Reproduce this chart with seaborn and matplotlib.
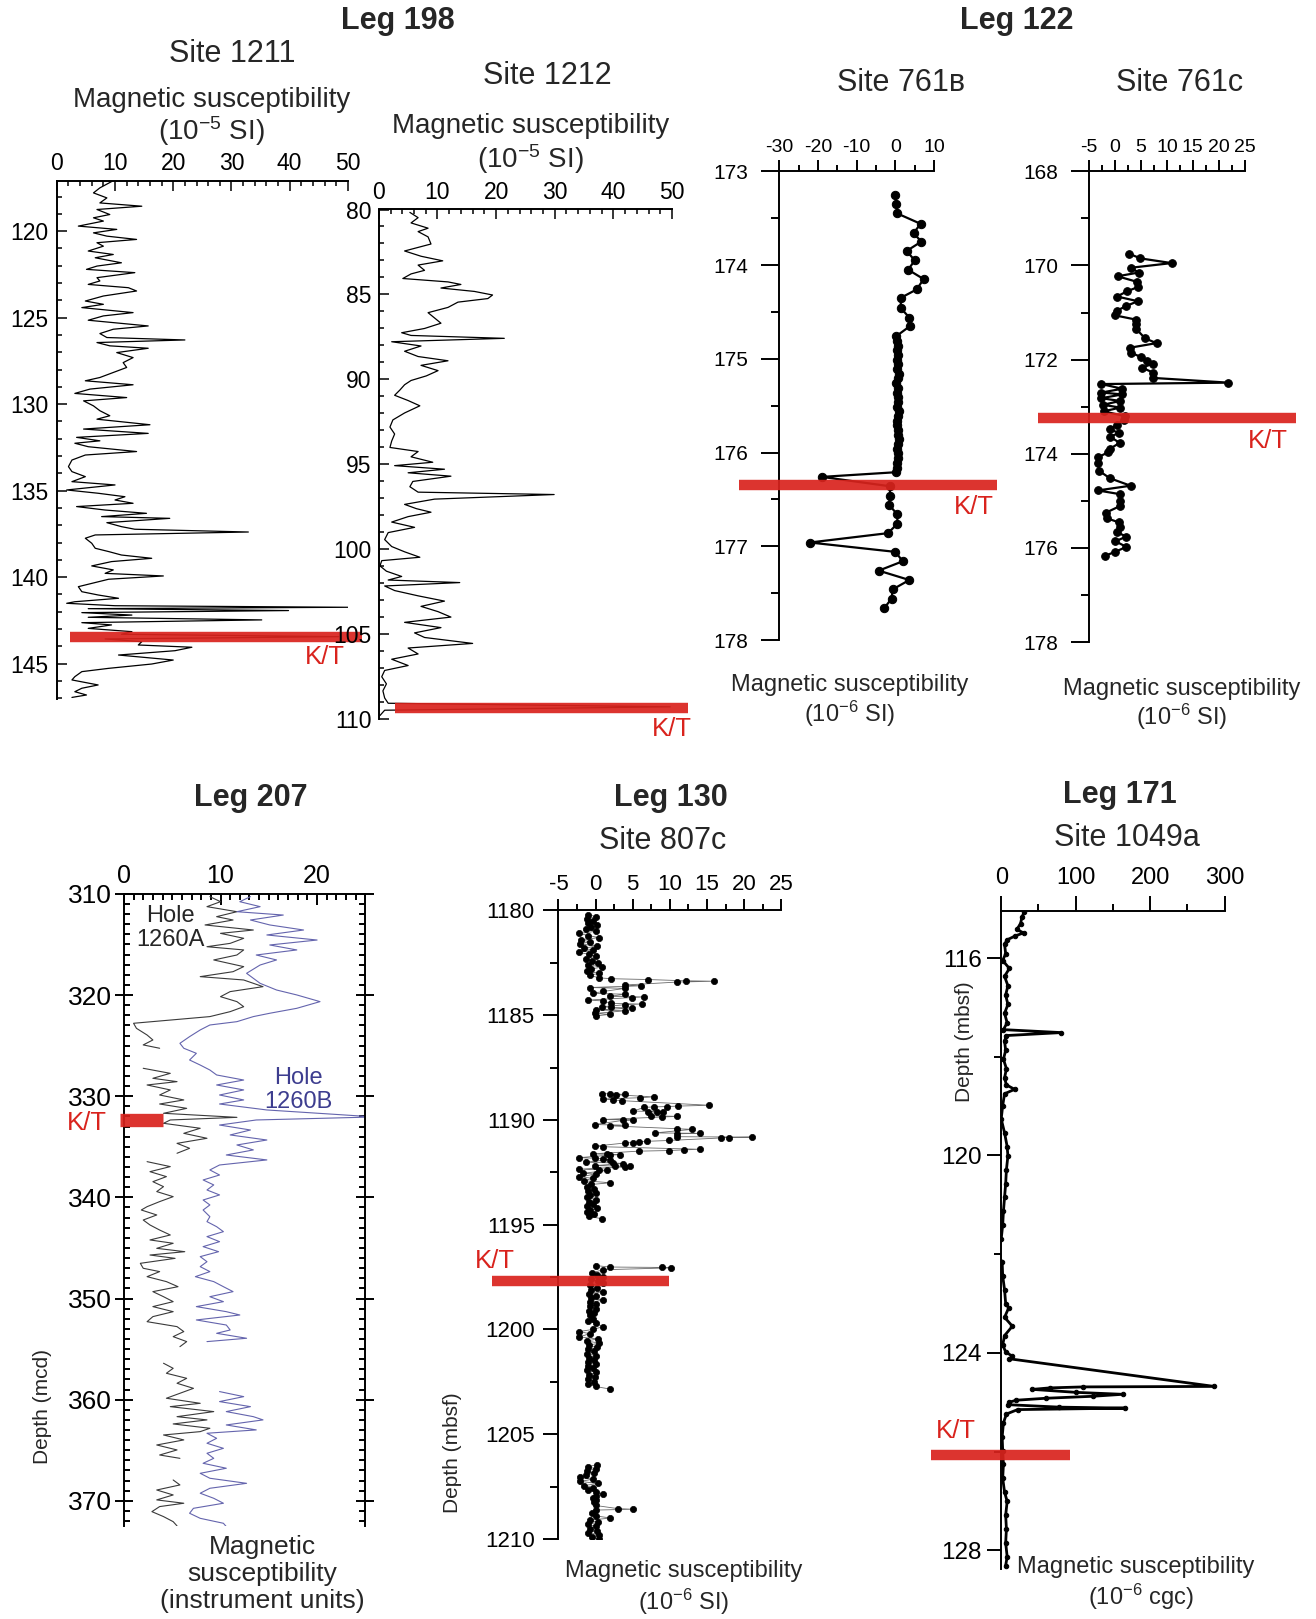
import numpy as np
import pandas as pd
import matplotlib
matplotlib.use("Agg")
import matplotlib.pyplot as plt
from matplotlib.ticker import MultipleLocator
import seaborn as sns

W, H = 1316, 1619
RED = "#d9231d"

# ---- Leg 198, Site 1211 (depth mbsf, susceptibility 1e-5 SI)
s1211_depth = [117.12, 117.5, 117.79, 118.08, 118.37, 118.56, 118.75, 119.04, 119.23, 119.42,
               119.71, 119.9, 120.1, 120.29, 120.48, 120.67, 120.87, 121.15, 121.35, 121.54,
               121.83, 122.02, 122.21, 122.4, 122.69, 122.88, 123.08, 123.27, 123.46, 123.75,
               124.04, 124.23, 124.42, 124.71, 124.9, 125.15, 125.48, 125.67, 125.92, 126.15,
               126.29, 126.44, 126.63, 126.77, 127.02, 127.31, 127.6, 127.88, 128.17, 128.46,
               128.65, 128.88, 129.13, 129.38, 129.62, 129.81, 130.1, 130.38, 130.67, 130.87,
               131.19, 131.44, 131.69, 131.92, 132.12,
               132.26, 132.46, 132.74, 132.94, 133.23, 133.61, 133.9, 134.19, 134.48, 134.67,
               134.96, 135.15, 135.35, 135.54, 135.73, 135.92, 136.12, 136.31, 136.5, 136.6,
               136.85, 137.08, 137.23, 137.39, 137.56, 137.75, 138.04, 138.33, 138.52, 138.72,
               138.91, 139.1, 139.35, 139.58, 139.78, 139.93, 140.12, 140.36, 140.55, 140.84,
               141.03, 141.22, 141.42, 141.51, 141.65, 141.74, 141.82, 141.93, 142.05, 142.19,
               142.32, 142.47, 142.63, 142.76, 142.96, 143.15, 143.3, 143.44, 143.57, 143.73,
               143.92, 144.05, 144.25, 144.5, 144.79, 145.02, 145.27, 145.46, 145.75, 145.94,
               146.23, 146.42, 146.62, 146.81, 146.95]
s1211_ms = [9.5, 7.4, 6.3, 8.6, 7.4, 14.6, 6.9, 9.1, 6.3, 8.0,
            3.7, 10.3, 6.3, 8.6, 13.7, 6.9, 8.0, 5.4, 9.7, 6.6,
            11.1, 6.9, 5.1, 13.4, 6.9, 7.4, 5.4, 12.3, 13.7, 8.0,
            4.9, 8.0, 4.3, 13.1, 8.0, 5.4, 15.7, 9.7, 7.4, 8.6,
            22.0, 6.9, 9.1, 15.7, 10.3, 13.1, 11.4, 12.0, 9.7, 7.4,
            4.9, 13.1, 5.7, 3.1, 12.0, 4.6, 6.3, 7.4, 9.1, 6.9,
            16.0, 4.6, 15.7, 3.4, 7.4,
            3.1, 5.4, 13.7, 4.9, 2.6, 2.0, 2.6, 4.9, 2.6, 10.0,
            1.7, 7.1, 11.7, 10.0, 13.1, 3.4, 8.3, 15.4, 7.7, 19.4,
            8.6, 11.1, 13.4, 32.9, 6.6, 4.9, 6.0, 6.6, 8.9, 11.1,
            16.3, 9.4, 6.0, 9.7, 8.3, 18.3, 8.9, 6.0, 3.7, 4.3,
            7.1, 10.6, 3.1, 1.7, 10.0, 50.0, 5.4, 39.8, 4.3, 12.9,
            5.4, 35.2, 4.3, 9.4, 5.4, 12.9, 11.1, 48.4, 8.3, 14.6,
            14.0, 23.2, 20.3, 10.6, 20.0, 16.3, 8.9, 4.3, 3.1, 2.6,
            7.1, 4.3, 3.1, 5.1, 2.6]
s1211_kt = 143.45

# ---- Leg 198, Site 1212
s1212_depth = [80.17, 80.48, 80.79, 81.1, 81.3, 81.61, 82.03, 82.44, 82.75, 83.02,
               83.27, 83.58, 83.79, 84.06, 84.26, 84.41, 84.62, 84.82, 85.03, 85.24,
               85.45, 85.76, 86.07, 86.38, 86.69, 87.0, 87.25, 87.41, 87.58, 87.78,
               88.03, 88.34, 88.65, 88.9, 89.17, 89.48, 89.79, 90.06, 90.31, 90.62,
               90.93, 91.24, 91.55, 91.97, 92.38, 92.8, 93.21, 93.62, 94.0, 94.24,
               94.55, 94.87, 95.07, 95.28, 95.49, 95.69, 96.0, 96.31, 96.63, 96.77,
               97.04, 97.35, 97.6, 97.81, 98.07, 98.39, 98.7, 99.01, 99.42, 99.83,
               100.14, 100.46, 100.66, 100.97, 101.28, 101.59, 101.8, 101.95, 102.15, 102.42,
               102.73, 103.04, 103.35, 103.66, 103.98, 104.29, 104.6, 104.91, 105.18, 105.53,
               105.8, 106.15, 106.46, 106.83, 107.12, 107.49, 107.91, 108.32, 108.74, 109.05,
               109.26, 109.46, 109.77]
s1212_ms = [5.3, 6.7, 5.5, 8.4, 6.7, 8.4, 8.9, 4.4, 7.2, 10.9,
            6.7, 7.8, 5.5, 4.1, 11.8, 14.0, 10.6, 16.3, 19.4, 18.6,
            13.5, 11.8, 8.4, 9.5, 10.6, 7.8, 3.9, 5.5, 21.4, 2.2,
            7.2, 4.4, 6.7, 11.8, 7.2, 10.1, 8.1, 5.5, 4.4, 3.6,
            2.7, 5.0, 7.0, 4.4, 2.4, 1.9, 2.7, 2.2, 1.9, 6.7,
            5.5, 9.2, 2.7, 11.2, 5.0, 12.3, 5.8, 5.3, 6.7, 29.9,
            9.5, 4.4, 6.4, 8.9, 5.0, 2.2, 6.1, 1.6, 1.0, 2.2,
            4.4, 7.0, 0.5, 0.2, 1.3, 3.9, 1.6, 13.8, 1.0, 2.7,
            6.7, 11.2, 7.2, 10.1, 12.3, 4.4, 10.6, 6.1, 7.8, 16.0,
            5.0, 6.7, 2.2, 5.0, 1.0, 0.5, 1.3, 0.7, 1.0, 1.6,
            49.7, 1.0, 0.2]
s1212_kt = 109.3

# ---- Leg 122, Site 761B (1e-6 SI)
s761b_depth = [173.25, 173.35, 173.45, 173.56, 173.66, 173.75, 173.85, 173.95, 174.05, 174.15,
               174.26, 174.35, 174.46, 174.56, 174.65, 174.76,
               174.81, 174.86, 174.91, 174.96, 175.01, 175.06, 175.11, 175.16, 175.21, 175.26,
               175.31, 175.36, 175.41, 175.46, 175.51, 175.56, 175.61, 175.66, 175.71, 175.76,
               175.81, 175.86, 175.91, 175.96, 176.01, 176.06, 176.11, 176.16, 176.21,
               176.26, 176.36, 176.46, 176.56, 176.66, 176.76, 176.86, 176.96, 177.06, 177.16,
               177.26, 177.36, 177.46, 177.56, 177.66]
s761b_ms = [0.0, 0.2, 0.5, 6.5, 4.7, 6.7, 2.9, 5.0, 3.3, 7.3,
            5.5, 1.4, 1.4, 3.6, 3.8, 0.2,
            0.3, 0.6, 0.4, 0.8, 0.5, 0.7, 0.4, 0.9, 0.6, 0.2,
            0.7, 0.5, 0.8, 0.6, 0.4, 0.9, 0.7, 0.5, 0.3, 0.8,
            0.6, 1.0, 0.7, 0.4, 0.8, 0.6, 0.3, 0.5, 0.2,
            -19.0, -1.4, -1.4, -1.6, 0.5, 0.5, -1.9, -22.1, 0.0, 1.9,
            -4.3, 3.6, -0.7, -1.0, -2.9]
s761b_kt = 176.35

# ---- Leg 122, Site 761C (1e-6 SI)
s761c_depth = [169.75, 169.85, 169.95, 170.05, 170.15, 170.23, 170.35, 170.46, 170.55, 170.66,
               170.76, 170.86, 170.96, 171.06, 171.15, 171.25, 171.35, 171.55, 171.65, 171.75,
               171.85, 171.95, 172.04, 172.09, 172.17, 172.28, 172.39, 172.49, 172.52, 172.62,
               172.70, 172.74, 172.82, 172.88, 172.96, 173.02, 173.10, 173.20, 173.28, 173.38,
               173.48, 173.56, 173.64, 173.77, 173.89, 173.97, 174.07, 174.20, 174.36, 174.52,
               174.68, 174.78, 174.86, 175.00, 175.11, 175.25, 175.37, 175.46, 175.56, 175.67,
               175.76, 175.86, 175.98, 176.08, 176.17]
s761c_ms = [2.7, 4.9, 10.9, 3.0, 4.6, 0.5, 4.3, 4.4, 2.3, 0.4,
            4.4, 2.2, 0.4, 0.0, 4.0, 4.0, 4.1, 5.8, 8.0, 2.8,
            3.0, 5.1, 6.1, 7.3, 5.2, 7.4, 7.4, 21.8, -2.6, 1.4,
            -2.6, 1.4, -2.6, 1.0, -2.3, 1.0, -2.2, 1.9, 1.7, 0.4,
            -0.9, 0.7, -0.9, 0.9, -0.9, -1.3, -3.2, -3.2, -3.1, -1.0,
            3.0, -3.3, 1.0, 1.0, 1.0, -1.7, -1.6, 0.8, 1.0, 0.4,
            2.2, 0.1, 2.2, 0.1, -1.9]
s761c_kt = 173.24

# ---- Leg 207, Holes 1260A / 1260B (instrument units), one list per core section
h1260a_depth = [
    [310.27, 310.77, 311.26, 311.76, 312.25, 312.58, 313.07, 313.57, 313.9, 314.39,
     314.89, 315.22, 315.54, 316.04, 316.53, 317.19, 317.69, 318.18, 318.51, 319.17,
     319.66, 320.16, 320.65, 321.15, 321.64, 322.13, 322.79, 323.29, 323.95, 324.44,
     324.93, 325.26],
    [327.24, 327.74, 328.23, 328.56, 328.89, 329.38, 329.88, 330.37, 330.77, 331.2,
     331.69, 332.09, 332.35, 332.68, 333.17, 333.67, 334.16, 334.66, 335.15, 335.64],
    [336.47, 336.96, 337.46, 337.95, 338.45, 338.94, 339.43, 339.93, 340.42, 340.92,
     341.25, 341.74, 342.24, 342.73, 343.23, 343.72, 344.21, 344.54, 345.04, 345.37,
     345.7, 346.03, 346.52, 347.01, 347.34, 347.84, 348.33, 348.83, 349.32, 349.82,
     350.31, 350.8, 351.3, 351.79, 352.29, 352.78, 353.27, 353.77, 354.26, 354.76],
    [356.4, 356.9, 357.39, 357.89, 358.38, 358.88, 359.37, 359.86, 360.36, 360.69,
     361.18, 361.68, 362.0, 362.4, 362.83, 363.16, 363.49, 363.98, 364.48, 364.97,
     365.47, 365.8],
    [367.94, 368.43, 368.93, 369.42, 369.91, 370.24, 370.57, 371.07, 371.56, 372.06, 372.48],
]
h1260a_ms = [
    [8.9, 10.0, 8.6, 11.7, 9.6, 11.3, 8.4, 13.4, 10.0, 12.4,
     11.0, 8.6, 12.4, 11.7, 9.3, 12.4, 11.3, 7.9, 12.4, 14.4,
     11.0, 10.0, 11.7, 12.4, 11.0, 8.9, 1.0, 1.3, 2.4, 3.0,
     2.0, 3.7],
    [2.0, 4.8, 3.0, 5.5, 2.4, 4.8, 3.7, 6.2, 3.7, 6.5,
     4.1, 11.7, 4.8, 4.1, 7.9, 6.2, 8.6, 5.5, 6.8, 5.5],
    [2.4, 4.8, 2.7, 4.4, 3.0, 4.1, 3.4, 5.1, 3.7, 2.4,
     1.8, 3.4, 2.0, 2.7, 3.7, 4.8, 2.7, 5.1, 3.4, 6.3,
     2.7, 5.3, 1.7, 2.0, 3.7, 2.4, 4.4, 5.6, 3.0, 4.1,
     5.1, 3.0, 5.1, 3.0, 2.4, 5.5, 6.2, 5.1, 6.5, 5.8],
    [4.1, 5.1, 4.4, 6.5, 5.5, 7.2, 5.8, 4.4, 7.9, 4.8,
     9.3, 5.5, 8.6, 5.1, 8.9, 7.9, 4.1, 6.2, 3.4, 5.5,
     3.7, 5.8],
    [5.1, 5.8, 3.4, 5.1, 3.4, 6.2, 3.7, 2.9, 4.1, 5.1, 5.5],
]
h1260b_depth = [
    [310.27, 310.77, 311.26, 311.76, 312.09, 312.58, 313.07, 313.57, 314.06, 314.56,
     315.05, 315.54, 316.04, 316.53, 317.03, 317.85, 318.84, 319.5, 319.99, 320.65,
     321.31, 321.8, 322.13, 322.63, 322.96, 323.45, 324.11, 324.77, 325.26, 325.76,
     326.42, 326.92, 327.41, 327.9, 328.4, 328.89, 329.38, 329.88, 330.37, 330.77,
     331.36, 332.05, 332.35, 332.85, 333.34, 333.83, 334.33, 334.82, 335.31, 335.81,
     336.3, 336.8, 337.29, 337.79, 338.28, 338.77, 339.27, 339.76, 340.26, 340.75,
     341.25, 341.91, 342.4, 342.9, 343.39, 343.88, 344.38, 344.87, 345.37, 345.86,
     346.36, 346.85, 347.34, 347.84, 348.33, 348.83, 349.32, 349.82, 350.31, 350.8,
     351.3, 351.63, 352.12, 352.62, 353.11, 353.44, 353.93, 354.26],
    [359.2, 359.7, 360.19, 360.69, 361.18, 361.68, 362.0, 362.5, 362.99, 363.32,
     363.82, 364.31, 364.81, 365.3, 365.8, 366.29, 366.78, 367.28, 367.77, 368.27,
     368.76, 369.25, 369.75, 370.24, 370.74, 371.23, 371.73, 372.22, 372.55],
]
h1260b_ms = [
    [13.1, 12.0, 14.1, 11.7, 16.5, 13.1, 15.1, 18.6, 14.8, 20.0,
     15.1, 17.9, 13.7, 15.8, 14.1, 12.7, 14.1, 15.8, 17.9, 20.3,
     17.9, 15.1, 13.4, 11.7, 8.9, 7.9, 6.8, 5.8, 6.2, 7.5,
     6.8, 7.9, 8.9, 9.6, 12.4, 9.6, 12.4, 9.9, 12.4, 9.9,
     14.8, 26.0, 13.7, 9.9, 13.1, 11.0, 14.8, 11.7, 13.4, 10.6,
     14.8, 9.9, 8.9, 9.9, 8.2, 9.3, 8.6, 9.9, 8.2, 8.9,
     8.2, 8.9, 8.6, 9.6, 10.3, 8.6, 9.9, 8.2, 9.8, 7.9,
     8.6, 7.9, 8.9, 7.4, 9.3, 10.3, 11.3, 8.9, 10.3, 7.5,
     10.6, 12.0, 7.5, 10.6, 11.0, 9.6, 12.7, 8.6],
    [9.9, 12.4, 9.9, 13.1, 10.6, 13.4, 14.4, 10.6, 13.7, 8.6,
     9.6, 8.6, 10.3, 8.6, 9.3, 8.2, 10.6, 7.9, 8.9, 12.7,
     8.9, 7.9, 9.3, 10.3, 7.2, 6.8, 7.9, 10.3, 10.6],
]
h1260_kt = 332.35

# ---- Leg 130, Site 807C (1e-6 SI), one list per core
s807c_depth = [
    [1180.2, 1180.3, 1180.4, 1180.5, 1180.6, 1180.7, 1180.8, 1180.9, 1181.0, 1181.1,
     1181.2, 1181.3, 1181.4, 1181.5, 1181.6, 1181.7, 1181.8, 1181.9, 1182.0, 1182.1,
     1182.2, 1182.3, 1182.4, 1182.5, 1182.6, 1182.7, 1182.8, 1182.9, 1183.0, 1183.1,
     1183.22, 1183.26, 1183.30, 1183.36, 1183.38, 1183.42, 1183.56, 1183.60, 1183.68, 1183.72,
     1183.87, 1183.96, 1184.00, 1184.10, 1184.13, 1184.16, 1184.28, 1184.32, 1184.44, 1184.47,
     1184.50, 1184.60, 1184.63, 1184.66, 1184.75, 1184.79, 1184.92, 1184.96, 1185.04],
    [1188.74, 1188.76, 1188.78, 1188.80, 1188.90, 1188.94, 1189.00, 1189.05, 1189.08, 1189.30,
     1189.34, 1189.36, 1189.38, 1189.40, 1189.58, 1189.60, 1189.62, 1189.64, 1189.80, 1189.83,
     1189.86, 1189.98, 1190.00, 1190.02, 1190.22, 1190.25, 1190.28, 1190.42, 1190.45, 1190.62,
     1190.64, 1190.66, 1190.80, 1190.82, 1190.84, 1190.86, 1190.98, 1191.02, 1191.05, 1191.08,
     1191.10, 1191.25, 1191.28, 1191.40, 1191.43, 1191.46, 1191.49, 1191.62, 1191.64, 1191.66,
     1191.68, 1191.80, 1191.83, 1191.86, 1191.89, 1192.02, 1192.05, 1192.08, 1192.18, 1192.20,
     1192.22, 1192.24, 1192.35, 1192.38, 1192.41, 1192.55, 1192.58, 1192.72, 1192.78, 1192.90,
     1193.00, 1193.08, 1193.2, 1193.3, 1193.4, 1193.5, 1193.6, 1193.7, 1193.8, 1193.9,
     1194.0, 1194.1, 1194.2, 1194.3, 1194.4, 1194.5, 1194.6, 1194.72],
    [1196.95, 1197.02, 1197.04, 1197.06, 1197.15, 1197.3, 1197.4, 1197.5, 1197.6, 1197.7,
     1197.8, 1197.9, 1198.0, 1198.1, 1198.2, 1198.3, 1198.4, 1198.5, 1198.6, 1198.7,
     1198.8, 1198.9, 1199.0, 1199.1, 1199.2, 1199.3, 1199.5, 1199.6, 1199.7, 1199.87,
     1200.0, 1200.1, 1200.2, 1200.36, 1200.45, 1200.55, 1200.65, 1200.75, 1200.85, 1200.95,
     1201.05, 1201.15, 1201.25, 1201.35, 1201.45, 1201.55, 1201.65, 1201.75, 1201.85, 1201.95,
     1202.05, 1202.15, 1202.25, 1202.35, 1202.5, 1202.62, 1202.72, 1202.85],
    [1206.45, 1206.55, 1206.65, 1206.75, 1206.85, 1206.95, 1207.05, 1207.15, 1207.25, 1207.35,
     1207.45, 1207.55, 1207.65, 1207.75, 1207.85, 1207.95, 1208.05, 1208.15, 1208.25, 1208.4,
     1208.55, 1208.58, 1208.62, 1208.75, 1208.9, 1209.0, 1209.1, 1209.2, 1209.3, 1209.4,
     1209.5, 1209.6, 1209.7, 1209.8, 1209.9, 1210.0],
]
s807c_ms = [
    [-1.0, 0.1, -1.2, -0.3, -1.0, 0.2, -0.6, -1.3, 0.0, -2.2,
     -1.0, 0.5, -2.0, -0.8, -2.1, 0.2, -1.5, -0.4, -2.2, -0.9,
     0.0, -1.3, -0.5, 0.3, -1.0, 0.8, -0.6, -1.2, 0.5, -0.8,
     0.5, 2.1, 7.1, 12.1, 16.0, 11.0, 4.0, 6.1, -0.8, 4.0,
     1.0, -0.4, 4.0, 1.9, 6.5, 4.9, -1.0, 1.0, 2.1, 6.2,
     4.0, 0.8, 2.1, 4.9, 0.1, 4.0, -0.1, 1.9, 0.0],
    [0.8, 1.9, 4.0, 2.8, 7.8, 6.0, 1.0, 2.4, 3.5, 15.3,
     11.1, 9.6, 7.8, 6.5, 5.1, 9.1, 8.3, 7.1, 7.4, 11.0,
     9.0, 1.0, 5.0, 3.7, -0.1, 4.0, 1.9, 11.0, 13.0, 8.0,
     14.0, 11.0, 11.0, 21.0, 17.9, 16.9, 9.9, 6.9, 5.9, 5.0,
     4.0, -0.1, 1.0, 14.0, 11.9, 9.9, 5.8, -0.4, 1.5, 3.3,
     1.9, -2.2, -0.1, 1.0, 1.9, -1.3, 2.4, 3.7, -0.1, 2.6,
     4.6, 4.0, -2.2, 0.5, 1.5, -1.7, 0.1, -2.2, -0.4, -1.5,
     2.0, -0.6, -1.2, -0.2, -1.0, 0.1, -0.8, -1.2, 0.0, -0.9,
     -0.3, -1.1, 0.2, -0.7, -1.2, -0.2, -0.9, 0.9],
    [0.0, 1.9, 9.0, 10.1, 1.0, -0.5, 0.2, 1.0, -0.6, 0.3,
     1.0, -0.8, 0.2, -0.6, 1.0, -0.9, 0.0, -0.6, 1.0, -0.8,
     0.1, -0.7, 0.0, -0.9, -0.2, -0.7, -0.3, -1.0, 0.0, 1.0,
     -0.4, -2.2, -0.8, -2.2, 0.3, -1.2, 0.5, -0.9, 0.2, -1.0,
     -0.2, -1.1, 0.0, -0.9, -0.2, -1.0, 0.0, -1.0, -0.3, -1.1,
     0.0, -0.9, -0.1, -1.0, -0.2, -1.0, 0.0, 2.0],
    [0.2, -1.0, 0.0, -1.2, -0.2, -1.3, -2.1, -0.4, -2.1, 0.3,
     -1.5, -0.3, -1.0, 0.0, 1.0, 0.0, -0.3, 0.1, -0.2, 0.0,
     3.0, 5.0, 0.0, -0.5, 0.1, 2.0, -0.8, 0.3, -1.0, 0.0,
     -0.8, 0.2, -1.0, 0.5, -0.5, 0.4],
]
s807c_kt = 1197.69

# ---- Leg 171, Site 1049A (1e-6 cgs)
s1049a_depth = [115.07, 115.16, 115.3, 115.42, 115.49, 115.55, 115.63, 115.72, 115.91, 116.05,
                116.21, 116.37, 116.56, 116.75, 116.94, 117.12, 117.31, 117.45, 117.51, 117.57,
                117.68, 117.87, 118.05, 118.24, 118.43, 118.57, 118.66, 118.75, 118.99, 119.26,
                119.54, 119.82, 120.01, 120.29, 120.57, 120.85, 121.13, 121.41, 121.69, 122.0,
                122.16, 122.44, 122.72, 123.0, 123.09, 123.28, 123.46, 123.65, 123.84, 123.98,
                124.07, 124.12, 124.68, 124.69, 124.71, 124.74, 124.8, 124.84, 124.88, 124.92,
                124.96, 125.0, 125.05, 125.1, 125.12, 125.15, 125.24, 125.42, 125.7, 125.98,
                126.26, 126.54, 126.82, 127.01, 127.29, 127.57, 127.85, 128.13, 128.31]
s1049a_ms = [31, 28, 26, 21, 30, 19, 8, 4.5, 6, 2,
             11, 4.5, 9, 6, 9, 4.5, 8, 3, 80.6, 7,
             4.5, 6, 3, 7, 4.5, 7, 18, 4.5, 2, 0,
             4.5, 8, 9, 7, 6, 4.5, 3, 2, 0, -5,
             1.3, 2, 4.5, 6, 10, 4.5, 15, 4.5, 2, 6,
             15, 11, 286, 110, 65, 42, 100, 163, 123, 60,
             20, 11, 9, 78, 166, 22, 7, 3, 1.3, 2,
             3, 2, 4.5, 8, 6, 7, 6, 8, 6]
s1049a_kt = 126.06


sns.set_theme(style="white")
plt.rcParams["font.family"] = ["Liberation Sans", "DejaVu Sans"]
plt.rcParams["mathtext.fontset"] = "custom"
plt.rcParams["mathtext.rm"] = "Liberation Sans"
plt.rcParams["mathtext.it"] = "Liberation Sans:italic"
plt.rcParams["mathtext.bf"] = "Liberation Sans:bold"
plt.rcParams["axes.linewidth"] = 1.4
plt.rcParams["axes.unicode_minus"] = False

fig = plt.figure(figsize=(W / 100, H / 100), dpi=100)
fig.patch.set_facecolor("white")


def box(left, top, right, bottom):
    # axes placed in pixel coordinates of the final image
    ax = fig.add_axes([left / W, 1 - bottom / H, (right - left) / W, (bottom - top) / H])
    ax.patch.set_alpha(0)
    return ax


def text(x, y, s, size, **kw):
    kw.setdefault("ha", "center")
    kw.setdefault("va", "center")
    fig.text(x / W, 1 - y / H, s, fontsize=size, **kw)


def frame(ax, xlim, ylim, spines=("left", "top")):
    ax.set_xlim(*xlim)
    ax.set_ylim(*ylim)
    for name, sp in ax.spines.items():
        sp.set_visible(name in spines)
        sp.set_color("black")
        sp.set_linewidth(1.4)
    ax.xaxis.tick_top()
    ax.set_xlabel("")
    ax.set_ylabel("")
    ax.grid(False)


def trace(ax, depth, ms, **kw):
    df = pd.DataFrame({"depth": depth, "ms": ms})
    sns.lineplot(data=df, x="ms", y="depth", sort=False, estimator=None, ax=ax, **kw)


def segments(ax, depth_lists, ms_lists, **kw):
    rows = []
    for i, (d, v) in enumerate(zip(depth_lists, ms_lists)):
        rows.append(pd.DataFrame({"depth": d, "ms": v, "seg": i}))
    df = pd.concat(rows, ignore_index=True)
    sns.lineplot(data=df, x="ms", y="depth", units="seg", sort=False, estimator=None,
                 ax=ax, **kw)


def kt_band(ax, x0, x1, y, lw=7.5):
    ax.plot([x0, x1], [y, y], color=RED, lw=lw, solid_capstyle="butt",
            clip_on=False, zorder=6, alpha=0.92)


# ================= Leg 198 =================
ax1 = box(56.8, 180.6, 347.9, 698.8)
trace(ax1, s1211_depth, s1211_ms, color="black", lw=0.9)
frame(ax1, (0, 50), (147.03, 117.08))
ax1.xaxis.set_major_locator(MultipleLocator(10))
ax1.xaxis.set_minor_locator(MultipleLocator(2))
ax1.yaxis.set_major_locator(MultipleLocator(5))
ax1.yaxis.set_minor_locator(MultipleLocator(1))
ax1.tick_params(which="both", direction="in", width=1.1, colors="black", labelsize=16.5,
                top=True, left=True, bottom=False, right=False)
ax1.tick_params(which="major", length=7, pad=4)
ax1.tick_params(which="minor", length=3.5)
ax1.tick_params(axis="y", pad=6)
kt_band(ax1, 2.3, 52.5, s1211_kt)

ax2 = box(378.8, 209.5, 672.0, 719.4)
trace(ax2, s1212_depth, s1212_ms, color="black", lw=0.9)
frame(ax2, (0, 50), (110, 80))
ax2.xaxis.set_major_locator(MultipleLocator(10))
ax2.xaxis.set_minor_locator(MultipleLocator(2))
ax2.yaxis.set_major_locator(MultipleLocator(5))
ax2.yaxis.set_minor_locator(MultipleLocator(1))
ax2.tick_params(which="both", direction="in", width=1.1, colors="black", labelsize=16.5,
                top=True, left=True, bottom=False, right=False)
ax2.tick_params(which="major", length=7, pad=4)
ax2.tick_params(which="minor", length=3.5)
ax2.tick_params(axis="y", pad=5)
kt_band(ax2, 2.8, 52.8, s1212_kt)

text(397.4, 21, "Leg 198", 22, fontweight="bold")
text(232.3, 54, "Site 1211", 22)
text(211.6, 100, "Magnetic susceptibility", 20)
text(211.6, 131, r"(10$^{-5}$ SI)", 20)
text(547, 75.5, "Site 1212", 22)
text(530.6, 126, "Magnetic susceptibility", 20)
text(530.6, 159, r"(10$^{-5}$ SI)", 20)
text(325, 657.5, "K/T", 18.5, color=RED)
text(672, 728.7, "K/T", 18.5, color=RED)

# ================= Leg 122 =================
dot = dict(color="black", lw=1.6, marker="o", markersize=6,
           markerfacecolor="black", markeredgecolor="black")
ax3 = box(779.3, 171.3, 934.1, 640.0)
trace(ax3, s761b_depth, s761b_ms, **dot)
frame(ax3, (-30, 10), (178, 173))
ax3.xaxis.set_major_locator(MultipleLocator(10))
ax3.xaxis.set_minor_locator(MultipleLocator(5))
ax3.yaxis.set_major_locator(MultipleLocator(1))
ax3.yaxis.set_minor_locator(MultipleLocator(0.5))
ax3.tick_params(which="both", direction="out", width=1.4, colors="black",
                top=True, left=True, bottom=False, right=False)
ax3.tick_params(axis="x", which="major", length=8, pad=3, labelsize=14)
ax3.tick_params(axis="x", which="minor", length=4.5)
ax3.tick_params(axis="y", which="major", length=13, pad=9, labelsize=15)
ax3.tick_params(axis="y", which="minor", length=6)
kt_band(ax3, -40.4, 26.3, s761b_kt)

ax4 = box(1089.0, 171.3, 1244.8, 642.0)
trace(ax4, s761c_depth, s761c_ms, **dict(dot, markersize=5.5))
frame(ax4, (-5, 25), (178, 168))
ax4.xaxis.set_major_locator(MultipleLocator(5))
ax4.xaxis.set_minor_locator(MultipleLocator(2.5))
ax4.yaxis.set_major_locator(MultipleLocator(2))
ax4.yaxis.set_minor_locator(MultipleLocator(1))
ax4.tick_params(which="both", direction="out", width=1.4, colors="black",
                top=True, left=True, bottom=False, right=False)
ax4.tick_params(axis="x", which="major", length=8, pad=3, labelsize=14)
ax4.tick_params(axis="x", which="minor", length=4.5)
ax4.tick_params(axis="y", which="major", length=13, pad=9, labelsize=15)
ax4.tick_params(axis="y", which="minor", length=6)
kt_band(ax4, -14.9, 34.8, s761c_kt)

text(1016.7, 21, "Leg 122", 22, fontweight="bold")
text(901, 82.6, "Site 761\u0299", 22)
text(1180, 82.6, "Site 761c", 22)
text(849.5, 685.4, "Magnetic susceptibility", 17)
text(849.5, 714.3, r"(10$^{-6}$ SI)", 17)
text(1182, 688.5, "Magnetic susceptibility", 17)
text(1182, 717.4, r"(10$^{-6}$ SI)", 17)
text(974, 507, "K/T", 18.5, color=RED)
text(1267.6, 441, "K/T", 18.5, color=RED)

# ================= Leg 207 =================
ax5 = box(123.9, 893.9, 365.4, 1525.6)
segments(ax5, h1260a_depth, h1260a_ms, color="#3a3a3a", lw=0.8)
segments(ax5, h1260b_depth, h1260b_ms, color="#6464ad", lw=0.8)
frame(ax5, (0, 25), (372.45, 310), spines=("left", "top", "right"))
ax5.xaxis.set_major_locator(MultipleLocator(10))
ax5.xaxis.set_minor_locator(MultipleLocator(1))
ax5.yaxis.set_major_locator(MultipleLocator(10))
ax5.yaxis.set_minor_locator(MultipleLocator(1))
ax5.tick_params(which="both", width=1.4, colors="black",
                top=True, left=True, right=True, bottom=False)
ax5.tick_params(axis="x", which="major", direction="in", length=8, pad=4, labelsize=18)
ax5.tick_params(axis="x", which="minor", direction="in", length=4.5)
ax5.tick_params(axis="y", which="major", direction="inout", length=13, pad=2, labelsize=19)
ax5.tick_params(axis="y", which="minor", direction="in", length=4.5)
kt_band(ax5, -0.43, 4.05, h1260_kt, lw=9.6)

text(250.8, 798, "Leg 207", 22, fontweight="bold")
text(170, 928, "Hole\n1260A", 17, linespacing=1.1)
text(298, 1090, "Hole\n1260B", 17, linespacing=1.1, color="#3d3d8f")
text(86.7, 1123, "K/T", 18.5, color=RED)
text(43, 1406, "Depth (mcd)", 15, rotation=90)
text(262, 1574, "Magnetic\nsusceptibility\n(instrument units)", 19, linespacing=1.15)

# ================= Leg 130 =================
ax6 = box(558.4, 910.4, 781.4, 1539.0)
segments(ax6, s807c_depth, s807c_ms, color="#6a6a6a", lw=0.6, marker="o", markersize=4.5,
         markerfacecolor="black", markeredgecolor="black", markeredgewidth=0.5)
frame(ax6, (-5, 25), (1210, 1180))
ax6.xaxis.set_major_locator(MultipleLocator(5))
ax6.xaxis.set_minor_locator(MultipleLocator(2.5))
ax6.yaxis.set_major_locator(MultipleLocator(5))
ax6.yaxis.set_minor_locator(MultipleLocator(2.5))
ax6.tick_params(which="both", direction="out", width=1.4, colors="black",
                top=True, left=True, bottom=False, right=False)
ax6.tick_params(axis="x", which="major", length=8, pad=3, labelsize=16)
ax6.tick_params(axis="x", which="minor", length=4.5)
ax6.tick_params(axis="y", which="major", length=11, pad=6, labelsize=16)
ax6.tick_params(axis="y", which="minor", length=6)
kt_band(ax6, -13.9, 9.87, s807c_kt)

text(671, 798, "Leg 130", 22, fontweight="bold")
text(662.7, 841.3, "Site 807c", 22)
text(494.4, 1261, "K/T", 18.5, color=RED)
text(452, 1453, "Depth (mbsf)", 15, rotation=90)
text(684, 1571, "Magnetic susceptibility", 17)
text(684, 1602, r"(10$^{-6}$ SI)", 17)

# ================= Leg 171 =================
ax7 = box(1001.2, 910.7, 1224.6, 1569.0)
trace(ax7, s1049a_depth, s1049a_ms, color="black", lw=2.0, marker="o", markersize=3.2,
      markerfacecolor="black", markeredgecolor="black")
frame(ax7, (0, 300), (128.38, 115.04))
ax7.xaxis.set_major_locator(MultipleLocator(100))
ax7.xaxis.set_minor_locator(MultipleLocator(50))
ax7.yaxis.set_major_locator(MultipleLocator(4))
ax7.yaxis.set_minor_locator(MultipleLocator(2))
ax7.tick_params(which="both", direction="out", width=1.4, colors="black",
                top=True, left=True, bottom=False, right=False)
ax7.tick_params(axis="x", which="major", length=10.5, pad=5, labelsize=17)
ax7.tick_params(axis="x", which="minor", length=5)
ax7.tick_params(axis="y", which="major", length=10, pad=4, labelsize=17.5)
ax7.tick_params(axis="y", which="minor", length=5)
ax7.set_yticks([116, 120, 124, 128])
kt_band(ax7, -94, 92.6, s1049a_kt)

text(1120, 795, "Leg 171", 22, fontweight="bold")
text(1127, 838, "Site 1049a", 22)
text(956, 1431, "K/T", 18.5, color=RED)
text(965, 1042, "Depth (mbsf)", 15, rotation=90)
text(1135.5, 1567, "Magnetic susceptibility", 17)
text(1140.6, 1597, r"(10$^{-6}$ cgc)", 17)

fig.savefig("out.png", dpi=100, facecolor="white")
